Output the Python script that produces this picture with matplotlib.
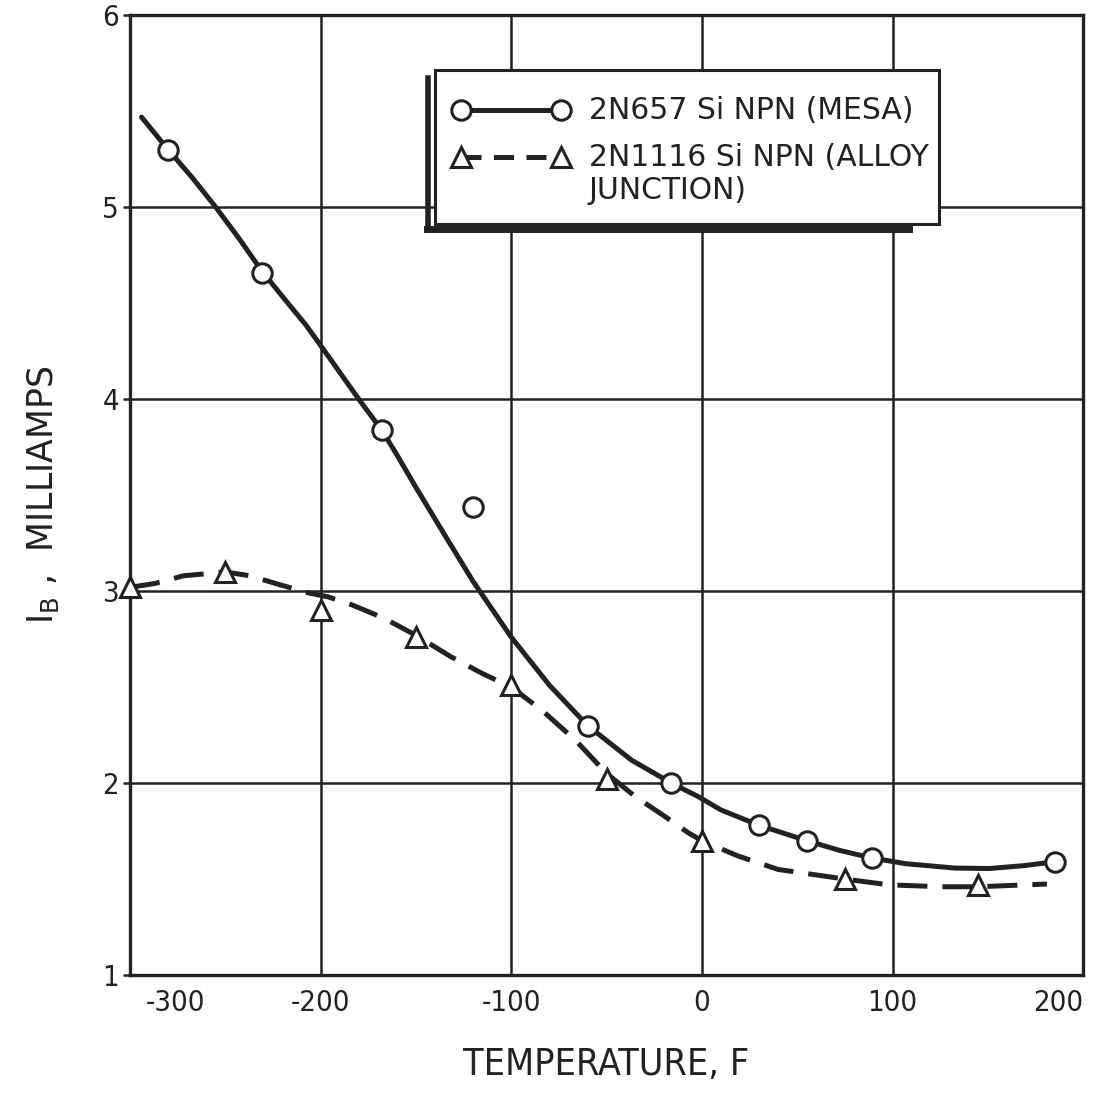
import matplotlib
matplotlib.use('Agg')
import matplotlib.pyplot as plt
import matplotlib.transforms as mtransforms
from matplotlib.patches import Rectangle
from matplotlib.lines import Line2D

# measured points, 2N657 Si NPN (mesa)
mesa_temp = [-280, -231, -168, -120, -60, -16, 30, 55, 89, 185]
mesa_ib = [5.30, 4.66, 3.84, 3.44, 2.30, 2.00, 1.78, 1.70, 1.61, 1.59]

# measured points, 2N1116 Si NPN (alloy junction)
alloy_temp = [-300, -250, -200, -150, -100, -50, 0, 75, 145]
alloy_ib = [3.02, 3.10, 2.90, 2.76, 2.51, 2.02, 1.70, 1.50, 1.47]

# hand drawn curves
mesa_fit_temp = [-294, -280, -267, -255, -243, -231, -218, -208, -200, -190, -180, -168,
                 -160, -150, -136, -120, -100, -80, -60, -37, -16, -2, 10, 30, 55, 72,
                 89, 107, 133, 151, 169, 185]
mesa_fit_ib = [5.47, 5.30, 5.15, 5.00, 4.84, 4.67, 4.51, 4.39, 4.28, 4.14, 4.00, 3.84,
               3.71, 3.54, 3.31, 3.05, 2.76, 2.51, 2.30, 2.12, 2.00, 1.93, 1.86, 1.78, 1.70, 1.65,
               1.61, 1.58, 1.557, 1.555, 1.57, 1.59]

alloy_fit_temp = [-300, -287, -272, -250, -237, -222, -206, -196, -184, -167, -150, -132,
                  -115, -100, -84, -66, -50, -35, -20, -7, 0, 19, 40, 75, 98, 125, 145, 181]
alloy_fit_ib = [3.02, 3.04, 3.08, 3.10, 3.08, 3.035, 2.99, 2.97, 2.93, 2.86, 2.77, 2.66,
                2.57, 2.50, 2.38, 2.22, 2.05, 1.93, 1.83, 1.74, 1.70, 1.62, 1.55, 1.50, 1.47,
                1.46, 1.46, 1.474]

x_ticks = [-300, -200, -100, 0, 100, 200]
x_labels = ['-300', '-200', '-100', '0', '100', '200']
y_ticks = [1, 2, 3, 4, 5, 6]

ink = '#222222'
plt.rcParams['font.family'] = ['DejaVu Sans']

fig = plt.figure(figsize=(10.93, 10.98), dpi=100)
ax = fig.add_axes([0.119, 0.112, 0.872, 0.874])
ax.set_xlim(-300, 200)
ax.set_ylim(1, 6)

ax.set_xticks(x_ticks)
ax.set_xticklabels(x_labels, fontstretch='condensed')
ax.set_yticks(y_ticks)
ax.set_yticklabels([str(v) for v in y_ticks], fontstretch='condensed')
ax.grid(True, color=ink, linewidth=1.8)
ax.set_axisbelow(True)
for s in ax.spines.values():
    s.set_linewidth(2.4)
    s.set_color(ink)
ax.tick_params(axis='x', length=0, pad=10, labelsize=21, colors=ink)
ax.tick_params(axis='y', length=5, width=1.8, pad=3, labelsize=21, colors=ink)
xl = ax.get_xticklabels()
xl[0].set_ha('left')
xl[0].set_transform(xl[0].get_transform() +
                    mtransforms.ScaledTranslation(11 / 72, 0, fig.dpi_scale_trans))
xl[-1].set_ha('right')

ax.plot(mesa_fit_temp, mesa_fit_ib, color=ink, lw=3.6, solid_joinstyle='round',
        solid_capstyle='round', zorder=3)
ax.plot(alloy_fit_temp, alloy_fit_ib, color=ink, lw=3.6, dashes=(6, 3), zorder=3)
ax.plot(mesa_temp, mesa_ib, 'o', ms=14, mfc='white', mec=ink, mew=2.2, zorder=4,
        clip_on=False)
ax.plot(alloy_temp, alloy_ib, '^', ms=15, mfc='white', mec=ink, mew=2.2, zorder=4,
        clip_on=False)

ax.set_xlabel('TEMPERATURE, F', fontsize=27, labelpad=22, color=ink, fontstretch='condensed')
ax.set_ylabel('I$_\\mathregular{B}$ ,  MILLIAMPS', fontsize=25, labelpad=30, color=ink)

# legend box with the drawn shadow on left and bottom
tr = ax.transAxes
ax.add_line(Line2D([0.313, 0.313], [0.776, 0.935], color=ink, lw=4, transform=tr, zorder=5))
ax.add_line(Line2D([0.312, 0.817], [0.777, 0.777], color=ink, lw=5, transform=tr, zorder=5))
ax.add_patch(Rectangle((0.320, 0.783), 0.529, 0.160, facecolor='white', edgecolor=ink,
                       lw=2.2, transform=tr, zorder=6))
ax.plot([0.347, 0.452], [0.901, 0.901], '-', color=ink, lw=3.6, transform=tr, zorder=7)
ax.plot([0.347, 0.452], [0.901, 0.901], 'o', ms=14, mfc='white', mec=ink, mew=2.2,
        transform=tr, zorder=8)
ax.plot([0.347, 0.452], [0.852, 0.852], color=ink, lw=3.6, dashes=(4, 2.5), transform=tr, zorder=7)
ax.plot([0.347, 0.452], [0.852, 0.852], '^', ms=15, mfc='white', mec=ink, mew=2.2,
        transform=tr, zorder=8)
ax.text(0.481, 0.901, '2N657 Si NPN (MESA)', fontsize=21.5, color=ink, transform=tr,
        va='center', ha='left', zorder=8)
ax.text(0.481, 0.852, '2N1116 Si NPN (ALLOY', fontsize=21.5, color=ink, transform=tr,
        va='center', ha='left', zorder=8)
ax.text(0.481, 0.817, 'JUNCTION)', fontsize=21.5, color=ink, transform=tr,
        va='center', ha='left', zorder=8)

fig.savefig('out.png', dpi=100, facecolor='white')
